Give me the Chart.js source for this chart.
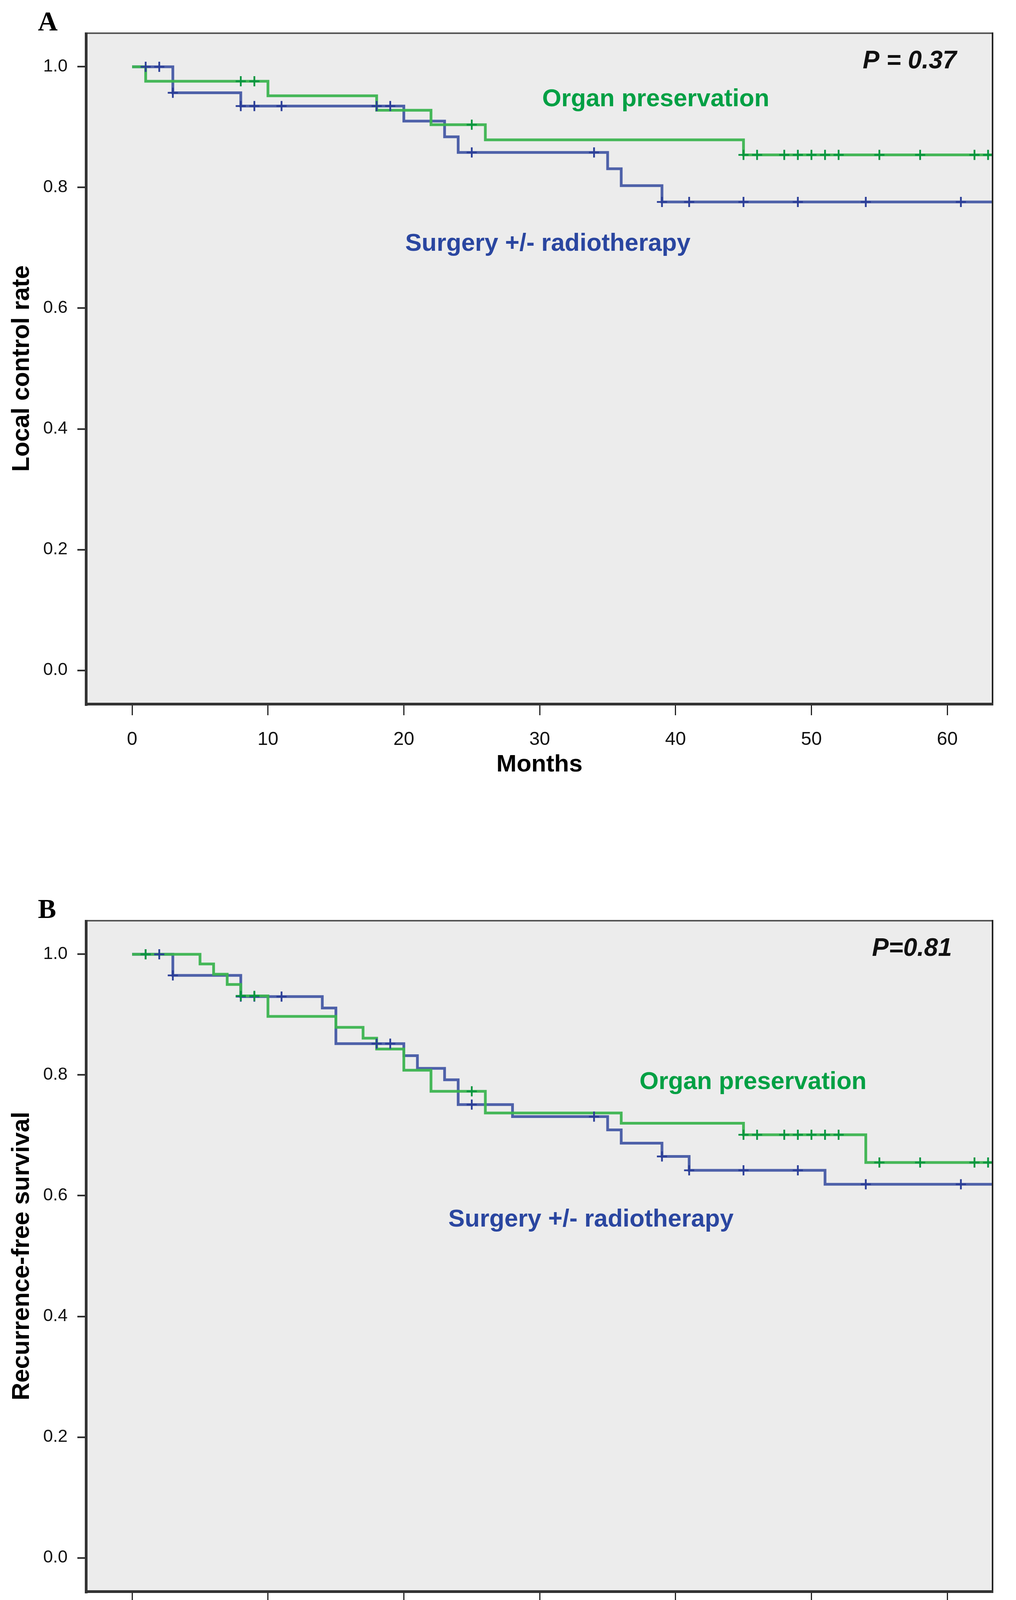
<!DOCTYPE html>
<html>
<head>
<meta charset="utf-8">
<script src="https://cdn.jsdelivr.net/npm/chart.js@4"></script>
<style>
  html, body { margin: 0; padding: 0; background: #fff; }
  canvas { display: block; }
</style>
</head>
<body>
<canvas id="chartA" width="2600" height="2272"></canvas>
<canvas id="chartB" width="2600" height="2004"></canvas>
<script>
const monthTicks = [0, 10, 20, 30, 40, 50, 60];
const rateTicks = [0, 0.2, 0.4, 0.6, 0.8, 1.0];

// A: local control
const organA_time = [0, 1, 10, 18, 22, 26, 45, 64];
const organA_surv = [1, 0.976, 0.952, 0.928, 0.904, 0.879, 0.854, 0.854];
const organA_censor = [8, 9, 25, 45, 46, 48, 49, 50, 51, 52, 55, 58, 62, 63];
const surgA_time = [0, 3, 8, 20, 23, 24, 35, 36, 39, 64];
const surgA_surv = [1, 0.957, 0.935, 0.910, 0.884, 0.858, 0.831, 0.803, 0.776, 0.776];
const surgA_censor = [1, 2, 3, 8, 9, 11, 18, 19, 25, 34, 39, 41, 45, 49, 54, 61];

// B: recurrence-free survival
const organB_time = [0, 5, 6, 7, 8, 10, 15, 17, 18, 20, 22, 26, 36, 45, 54, 64];
const organB_surv = [1, 0.984, 0.967, 0.950, 0.931, 0.897, 0.879, 0.861, 0.843, 0.808, 0.773, 0.737, 0.720, 0.701, 0.655, 0.655];
const organB_censor = [1, 8, 9, 25, 45, 46, 48, 49, 50, 51, 52, 55, 58, 62, 63];
const surgB_time = [0, 3, 8, 14, 15, 20, 21, 23, 24, 28, 35, 36, 39, 41, 51, 64];
const surgB_surv = [1, 0.965, 0.930, 0.911, 0.852, 0.832, 0.811, 0.792, 0.751, 0.731, 0.709, 0.687, 0.665, 0.642, 0.619, 0.619];
const surgB_censor = [1, 2, 3, 8, 9, 11, 18, 19, 25, 34, 39, 41, 45, 49, 54, 61];

const GREEN_LINE = "rgba(60, 180, 80, 0.95)";
const GREEN_MARK = "#0a9640";
const GREEN_TEXT = "#00a044";
const BLUE_LINE = "rgba(70, 90, 165, 0.95)";
const BLUE_MARK = "#2c3f98";
const BLUE_TEXT = "#2a46a0";
const FONT = "'Liberation Sans', Arial, sans-serif";

// survival level in force at time t
function levelAt(times, surv, t) {
  let v = surv[0];
  for (let i = 0; i < times.length; i++) {
    if (times[i] <= t) v = surv[i];
  }
  return v;
}

function stepLine(times, surv, color, order) {
  return {
    data: times.map((t, i) => ({ x: t, y: surv[i] })),
    stepped: true,
    borderColor: color,
    borderWidth: 7,
    pointRadius: 0,
    fill: false,
    order: order,
  };
}

function censorMarks(censor, times, surv, color, order) {
  return {
    data: censor.map((t) => ({ x: t, y: levelAt(times, surv, t) })),
    showLine: false,
    pointStyle: "cross",
    pointRadius: 13,
    borderColor: color,
    borderWidth: 4.5,
    order: order,
  };
}

const frame = {
  id: "frame",
  beforeDraw(chart) {
    const { ctx, chartArea: { left, top, right, bottom } } = chart;
    ctx.save();
    ctx.fillStyle = "#ececec";
    ctx.fillRect(left, top, right - left, bottom - top);
    ctx.restore();
  },
  afterDatasetsDraw(chart, args, opts) {
    const { ctx, chartArea: { left, top, right, bottom }, scales: { x, y } } = chart;
    ctx.save();
    ctx.fillStyle = "#555";
    ctx.fillRect(left - 4, top - 3, right - left + 6, 4);
    ctx.fillStyle = "#222";
    ctx.fillRect(right - 2, top - 3, 4, bottom - top + 6);
    ctx.fillStyle = "#333";
    ctx.fillRect(left - 4, top - 3, 7, bottom - top + 9);
    ctx.fillRect(left - 4, bottom - 2, right - left + 6, 7);

    ctx.textBaseline = "alphabetic";
    opts.notes.forEach((n) => {
      ctx.font = n.font;
      ctx.fillStyle = n.color;
      ctx.textAlign = n.align;
      ctx.fillText(n.text, x.getPixelForValue(n.x), y.getPixelForValue(n.y));
    });

    ctx.font = "bold 70px 'Liberation Serif', 'Times New Roman', serif";
    ctx.fillStyle = "#000";
    ctx.textAlign = "left";
    ctx.fillText(opts.letter, left - 124, top - 8);
    ctx.restore();
  },
};

function makeChart(id, yTitle, datasets, letter, notes) {
  const canvas = document.getElementById(id);
  return new Chart(canvas, {
    type: "line",
    data: { datasets: datasets },
    options: {
      responsive: false,
      devicePixelRatio: 1,
      animation: false,
      layout: { padding: { top: 86, right: 60, left: 0, bottom: canvas.height - 1801 - 194 } },
      plugins: {
        legend: { display: false },
        tooltip: { enabled: false },
        frame: { letter: letter, notes: notes },
      },
      scales: {
        x: {
          type: "linear",
          min: -3.365,
          max: 63.33,
          afterBuildTicks: (s) => { s.ticks = monthTicks.map((v) => ({ value: v })); },
          afterFit: (s) => { s.height = 194; },
          border: { display: false },
          grid: { drawOnChartArea: false, drawTicks: true, tickLength: 30, tickWidth: 3, tickColor: "#222" },
          ticks: { font: { family: FONT, size: 48 }, color: "#111", padding: 34, maxRotation: 0, callback: (v) => v },
          title: { display: true, text: "Months", color: "#000", font: { family: FONT, size: 62, weight: "bold" }, padding: 0 },
        },
        y: {
          type: "linear",
          min: -0.055,
          max: 1.055,
          afterBuildTicks: (s) => { s.ticks = rateTicks.map((v) => ({ value: v })); },
          afterFit: (s) => { s.width = 221; },
          border: { display: false },
          grid: { drawOnChartArea: false, drawTicks: true, tickLength: 23, tickWidth: 4, tickColor: "#222" },
          ticks: { font: { family: FONT, size: 45 }, color: "#111", padding: 25, callback: (v) => v.toFixed(1) },
          title: { display: true, text: yTitle, color: "#000", font: { family: FONT, size: 63, weight: "bold" }, padding: { top: 19, bottom: 0 } },
        },
      },
    },
    plugins: [frame],
  });
}

makeChart("chartA", "Local control rate", [
  censorMarks(organA_censor, organA_time, organA_surv, GREEN_MARK, 0),
  censorMarks(surgA_censor, surgA_time, surgA_surv, BLUE_MARK, 1),
  stepLine(organA_time, organA_surv, GREEN_LINE, 2),
  stepLine(surgA_time, surgA_surv, BLUE_LINE, 3),
], "A", [
  { text: "Organ preservation", x: 38.54, y: 0.9346, color: GREEN_TEXT, align: "center", font: "bold 63px " + FONT },
  { text: "Surgery +/- radiotherapy", x: 30.6, y: 0.6951, color: BLUE_TEXT, align: "center", font: "bold 63px " + FONT },
  { text: "P = 0.37", x: 60.68, y: 0.9974, color: "#111", align: "right", font: "italic bold 64px " + FONT },
]);

makeChart("chartB", "Recurrence-free survival", [
  censorMarks(organB_censor, organB_time, organB_surv, GREEN_MARK, 0),
  censorMarks(surgB_censor, surgB_time, surgB_surv, BLUE_MARK, 1),
  stepLine(organB_time, organB_surv, GREEN_LINE, 2),
  stepLine(surgB_time, surgB_surv, BLUE_LINE, 3),
], "B", [
  { text: "Organ preservation", x: 45.7, y: 0.7767, color: GREEN_TEXT, align: "center", font: "bold 63px " + FONT },
  { text: "Surgery +/- radiotherapy", x: 33.77, y: 0.5489, color: BLUE_TEXT, align: "center", font: "bold 63px " + FONT },
  { text: "P=0.81", x: 60.34, y: 0.9974, color: "#111", align: "right", font: "italic bold 64px " + FONT },
]);
</script>
</body>
</html>
